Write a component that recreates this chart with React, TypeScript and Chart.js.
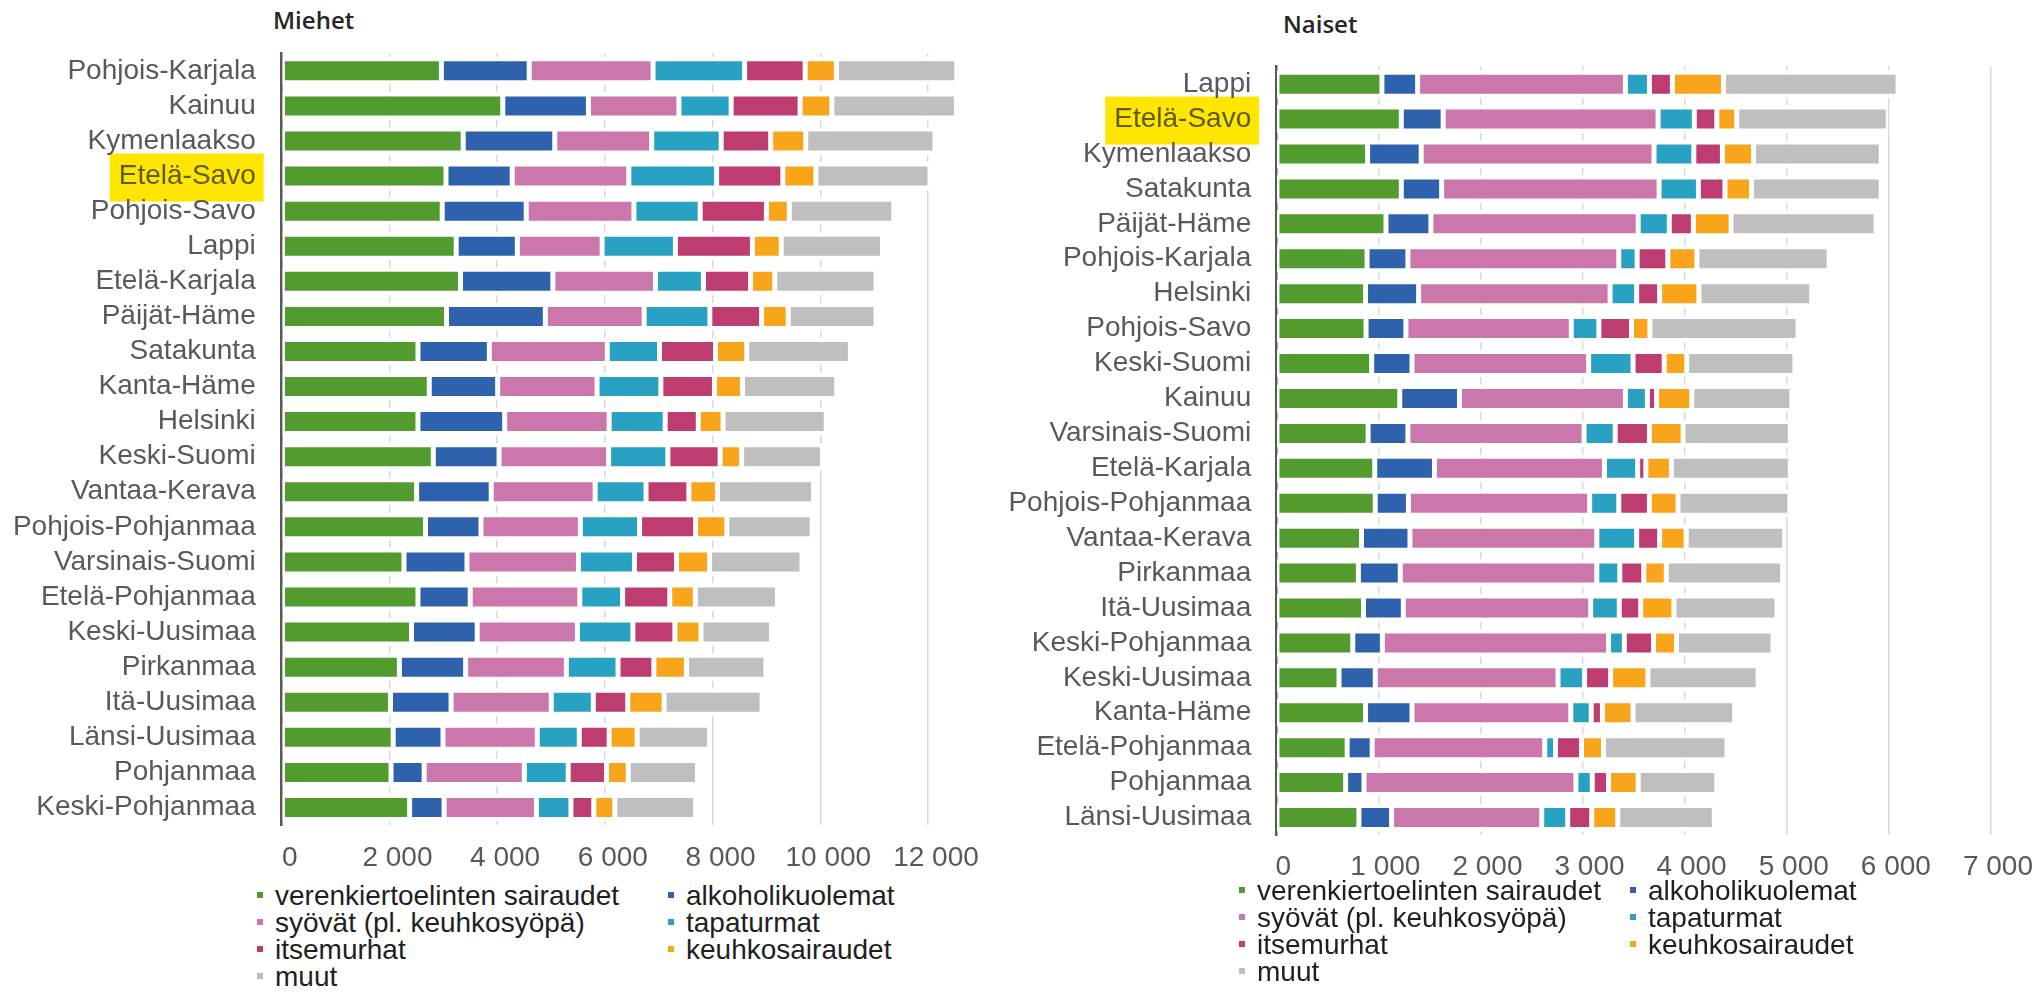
import React, { useEffect, useRef } from 'react';
import { Chart, registerables } from 'chart.js';

Chart.register(...registerables);

const seriesLabels = [
  'verenkiertoelinten sairaudet',
  'alkoholikuolemat',
  'syövät (pl. keuhkosyöpä)',
  'tapaturmat',
  'itsemurhat',
  'keuhkosairaudet',
  'muut',
];
const seriesColors = ['#519b2f', '#2f62ad', '#cb77ab', '#29a1c2', '#be3d70', '#f9a51c', '#bfbfbf'];

const highlighted = 'Etelä-Savo';

// Miehet
const menCategories = [
  'Pohjois-Karjala', 'Kainuu', 'Kymenlaakso', 'Etelä-Savo', 'Pohjois-Savo', 'Lappi',
  'Etelä-Karjala', 'Päijät-Häme', 'Satakunta', 'Kanta-Häme', 'Helsinki', 'Keski-Suomi',
  'Vantaa-Kerava', 'Pohjois-Pohjanmaa', 'Varsinais-Suomi', 'Etelä-Pohjanmaa', 'Keski-Uusimaa',
  'Pirkanmaa', 'Itä-Uusimaa', 'Länsi-Uusimaa', 'Pohjanmaa', 'Keski-Pohjanmaa',
];
const menVerenkierto = [2965, 4105, 3370, 3050, 2980, 3240, 3320, 3060, 2530, 2740, 2530, 2815, 2505, 2670, 2270, 2530, 2410, 2185, 2020, 2070, 2030, 2375];
const menAlkoholi = [1630, 1590, 1700, 1230, 1560, 1135, 1715, 1835, 1325, 1270, 1610, 1220, 1385, 1030, 1170, 970, 1220, 1230, 1125, 925, 615, 640];
const menSyovat = [2300, 1680, 1800, 2165, 2000, 1575, 1905, 1835, 2190, 1845, 1940, 2035, 1930, 1845, 2070, 2035, 1860, 1870, 1860, 1750, 1860, 1715];
const menTapaturmat = [1700, 970, 1290, 1630, 1230, 1360, 890, 1220, 970, 1185, 1040, 1100, 945, 1100, 1040, 795, 1030, 960, 780, 780, 815, 640];
const menItsemurhat = [1125, 1280, 920, 1230, 1230, 1430, 875, 960, 1040, 995, 615, 970, 795, 1040, 780, 875, 780, 665, 640, 555, 710, 425];
const menKeuhko = [580, 590, 650, 615, 425, 535, 450, 495, 580, 520, 460, 400, 530, 580, 615, 475, 485, 605, 675, 520, 405, 390];
const menMuut = [2235, 2315, 2400, 2115, 1940, 1880, 1880, 1630, 1925, 1750, 1915, 1500, 1785, 1585, 1715, 1525, 1310, 1475, 1820, 1345, 1285, 1500];
const menTickLabels = ['0', '2 000', '4 000', '6 000', '8 000', '10 000', '12 000'];

// Naiset
const womenCategories = [
  'Lappi', 'Etelä-Savo', 'Kymenlaakso', 'Satakunta', 'Päijät-Häme', 'Pohjois-Karjala',
  'Helsinki', 'Pohjois-Savo', 'Keski-Suomi', 'Kainuu', 'Varsinais-Suomi', 'Etelä-Karjala',
  'Pohjois-Pohjanmaa', 'Vantaa-Kerava', 'Pirkanmaa', 'Itä-Uusimaa', 'Keski-Pohjanmaa',
  'Keski-Uusimaa', 'Kanta-Häme', 'Etelä-Pohjanmaa', 'Pohjanmaa', 'Länsi-Uusimaa',
];
const womenVerenkierto = [1035, 1225, 895, 1225, 1075, 890, 875, 880, 935, 1210, 900, 965, 970, 835, 805, 855, 750, 615, 875, 695, 680, 810];
const womenAlkoholi = [350, 410, 525, 395, 440, 400, 520, 390, 395, 585, 390, 585, 325, 475, 410, 390, 290, 355, 455, 245, 180, 320];
const womenSyovat = [2035, 2105, 2280, 2130, 2030, 2065, 1875, 1620, 1730, 1625, 1725, 1665, 1775, 1830, 1925, 1835, 2215, 1790, 1555, 1690, 2075, 1470];
const womenTapaturmat = [235, 355, 390, 385, 305, 180, 260, 270, 435, 215, 305, 325, 285, 390, 225, 280, 155, 260, 200, 105, 160, 255];
const womenItsemurhat = [225, 220, 280, 260, 235, 300, 225, 320, 305, 90, 335, 80, 300, 225, 235, 210, 285, 255, 110, 255, 160, 235];
const womenKeuhko = [500, 195, 305, 260, 370, 285, 385, 180, 220, 345, 330, 250, 280, 260, 220, 325, 225, 365, 300, 215, 290, 255];
const womenMuut = [1710, 1485, 1250, 1270, 1420, 1295, 1105, 1450, 1060, 980, 1050, 1165, 1095, 965, 1140, 1010, 945, 1080, 995, 1210, 770, 945];
const womenTickLabels = ['0', '1 000', '2 000', '3 000', '4 000', '5 000', '6 000', '7 000'];

const FONT = '"Liberation Sans", Arial, Helvetica, sans-serif';
const AXIS_GREY = '#595959';

const highlightPlugin = {
  id: 'highlightLabel',
  beforeDraw(chart: any) {
    const y = chart.scales.y;
    const labels = chart.data.labels as string[];
    const idx = labels.indexOf(highlighted);
    if (idx < 0) return;
    const cy = y.getPixelForTick(idx);
    const ctx = chart.ctx;
    ctx.save();
    ctx.font = `28px ${FONT}`;
    const w = ctx.measureText(highlighted).width;
    const right = y.right - y.options.ticks.padding;
    ctx.fillStyle = '#ffe600';
    ctx.fillRect(right - w - 9, cy - 22.5, w + 17, 48);
    ctx.restore();
  },
};

type Layout = {
  max: number;
  step: number;
  tickLabels: string[];
  yWidth: number;
  padTop: number;
  padRight: number;
  xHeight: number;
  xPad: number;
  labelPad: number;
  labelOffset: number;
};

function buildConfig(categories: string[], series: number[][], lay: Layout): any {
  return {
    type: 'bar',
    data: {
      labels: categories,
      datasets: series.map((d, i) => ({
        label: seriesLabels[i],
        data: d,
        backgroundColor: seriesColors[i],
        borderColor: '#ffffff',
        borderWidth: { top: 4.5, bottom: 4.5, left: 2.5, right: 2.5 },
        borderSkipped: false,
        barThickness: 28,
        inflateAmount: 0,
        clip: false,
      })),
    },
    options: {
      responsive: false,
      animation: false,
      devicePixelRatio: 1,
      indexAxis: 'y',
      layout: { padding: { top: lay.padTop, right: lay.padRight, left: 0, bottom: 0 } },
      plugins: {
        legend: { display: false },
        tooltip: { enabled: false },
        title: { display: false },
      },
      scales: {
        x: {
          stacked: true,
          min: 0,
          max: lay.max,
          ticks: {
            stepSize: lay.step,
            autoSkip: false,
            maxRotation: 0,
            padding: lay.xPad,
            labelOffset: lay.labelOffset,
            color: AXIS_GREY,
            font: { family: FONT, size: 28 },
            callback: (_v: any, i: number) => lay.tickLabels[i],
          },
          grid: { color: '#d9d9d9', lineWidth: 1.5, drawTicks: false },
          border: { display: false },
          afterFit: (s: any) => {
            s.height = lay.xHeight;
          },
        },
        y: {
          stacked: true,
          ticks: {
            autoSkip: false,
            padding: lay.labelPad,
            color: (c: any) => (c.tick && c.tick.label === highlighted ? '#5e5b14' : AXIS_GREY),
            font: { family: FONT, size: 28 },
          },
          grid: { display: false, drawTicks: false },
          border: { display: true, color: AXIS_GREY, width: 2.5 },
          afterFit: (s: any) => {
            s.width = lay.yWidth;
          },
        },
      },
    },
    plugins: [highlightPlugin],
  };
}

function Legend({ left, top, colWidth }: { left: number; top: number; colWidth: number }) {
  return (
    <div
      style={{
        position: 'absolute',
        left,
        top,
        display: 'grid',
        gridTemplateColumns: `${colWidth}px auto`,
        fontFamily: FONT,
        fontSize: 28,
        color: '#1f1f1f',
      }}
    >
      {seriesLabels.map((l, i) => (
        <div
          key={l}
          style={{ position: 'relative', height: 27.3, lineHeight: '27.3px', paddingLeft: 18, whiteSpace: 'nowrap' }}
        >
          <span
            style={{ position: 'absolute', left: 0, top: 10, width: 6, height: 6, background: seriesColors[i] }}
          />
          {l}
        </div>
      ))}
    </div>
  );
}

export default function App() {
  const menRef = useRef<HTMLCanvasElement>(null);
  const womenRef = useRef<HTMLCanvasElement>(null);

  useEffect(() => {
    const men = new Chart(
      menRef.current as HTMLCanvasElement,
      buildConfig(
        menCategories,
        [menVerenkierto, menAlkoholi, menSyovat, menTapaturmat, menItsemurhat, menKeuhko, menMuut],
        {
          max: 12000,
          step: 2000,
          tickLabels: menTickLabels,
          yWidth: 281.7,
          padTop: 53.3,
          padRight: 72,
          xHeight: 55,
          xPad: 16,
          labelPad: 26,
          labelOffset: 8,
        }
      )
    );
    const women = new Chart(
      womenRef.current as HTMLCanvasElement,
      buildConfig(
        womenCategories,
        [womenVerenkierto, womenAlkoholi, womenSyovat, womenTapaturmat, womenItsemurhat, womenKeuhko, womenMuut],
        {
          max: 7000,
          step: 1000,
          tickLabels: womenTickLabels,
          yWidth: 276.2,
          padTop: 66.7,
          padRight: 47.7,
          xHeight: 55,
          xPad: 15,
          labelPad: 25,
          labelOffset: 7,
        }
      )
    );
    return () => {
      men.destroy();
      women.destroy();
    };
  }, []);

  const titleStyle: React.CSSProperties = {
    position: 'absolute',
    fontFamily: '"Open Sans", "Noto Sans", sans-serif',
    fontWeight: 600,
    fontSize: 24,
    lineHeight: '24px',
    color: '#262626',
    whiteSpace: 'nowrap',
  };

  return (
    <div style={{ position: 'absolute', left: 0, top: 0, width: 2041, height: 992, background: '#ffffff', overflow: 'hidden' }}>
      <div style={{ ...titleStyle, left: 273, top: 8 }}>Miehet</div>
      <div style={{ ...titleStyle, left: 1283, top: 12 }}>Naiset</div>
      <canvas
        ref={menRef}
        width={1000}
        height={880}
        style={{ position: 'absolute', left: 0, top: 0, width: 1000, height: 880 }}
      />
      <canvas
        ref={womenRef}
        width={1041}
        height={890}
        style={{ position: 'absolute', left: 1000, top: 0, width: 1041, height: 890 }}
      />
      <Legend left={257} top={881.6} colWidth={411} />
      <Legend left={1239} top={876.6} colWidth={391} />
    </div>
  );
}
